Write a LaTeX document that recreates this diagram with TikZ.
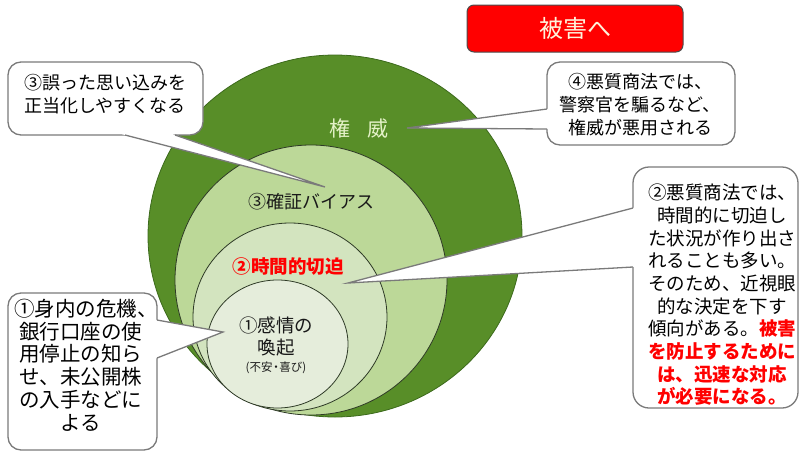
\documentclass[tikz,border=0pt]{standalone}
\usepackage{fontspec}
\setmainfont{Noto Sans CJK JP}
\usetikzlibrary{calc,shapes.geometric}
\definecolor{dgreen}{HTML}{588E28}
\definecolor{dgreenline}{HTML}{3C6A1C}
\definecolor{lgreenA}{HTML}{BCD898}
\definecolor{lgreenB}{HTML}{D3E4BF}
\definecolor{lgreenC}{HTML}{E5EDDB}
\definecolor{ringline}{HTML}{2E3A26}
\definecolor{bgray}{HTML}{7A7A7A}
\definecolor{pale}{HTML}{E4F2C8}
\definecolor{boxtext}{HTML}{FFF3DC}
\tikzset{
  ring/.style={ellipse, inner sep=0pt, draw=ringline, line width=0.8pt},
  bubblebox/.style={draw=bgray, line width=1.3pt, fill=white, rounded corners=13pt, inner sep=0pt},
  bubbleline/.style={draw=bgray, line width=1.3pt, line join=miter},
  btext/.style={align=center, text=black, inner sep=0pt},
  ctext/.style={align=center, text=black!90, inner sep=0pt}
}
\newcommand\mytail[3]{%
  \fill[white] ($(#1)!-3pt!(#2)$) -- (#2) -- ($(#3)!-3pt!(#2)$) -- cycle;
  \draw[bubbleline] (#1) -- (#2) -- (#3);
}
\begin{document}
\begin{tikzpicture}[x=1pt,y=-1pt]
\useasboundingbox (0,0) rectangle (806,453);

% circles
\node[ellipse, inner sep=0pt, fill=dgreen, draw=dgreenline, line width=0.8pt,
      minimum width=374pt, minimum height=362pt] (authc) at (335,236) {};
\node[ring, fill=lgreenA, minimum width=272pt, minimum height=270pt] (biasc) at (311,280) {};
\node[ring, fill=lgreenB, minimum width=194pt, minimum height=188pt] (timec) at (290,317) {};
\node[ring, fill=lgreenC, minimum width=141pt, minimum height=128pt] (emoc) at (277.5,344) {};

% circle labels
\node[ctext, text=pale, font=\fontsize{21}{24}\selectfont] (authl) at (359,128) {権\hspace{17pt}威};
\node[ctext, font=\fontsize{18}{22}\selectfont] (biasl) at (311,202) {③確証バイアス};
\node[ctext, text=red, font=\fontsize{18.5}{22}\selectfont\bfseries] (timel) at (288,267) {②時間的切迫};
\node[ctext, font=\fontsize{18.5}{22}\selectfont] (emol) at (276,336) {①感情の\\喚起};
\node[ctext, font=\fontsize{11.5}{13}\selectfont] (emos) at (276,368) {(不安\makebox[0.6em]{・}喜び)};

% red box
\node[draw=black!70, line width=1pt, fill=red, rounded corners=7pt,
      minimum width=216pt, minimum height=47pt, text=boxtext,
      font=\fontsize{24}{26}\selectfont] (harm) at (575,28.5) {被害へ};

% bubble 3 (top left)
\node[bubblebox, minimum width=195pt, minimum height=73pt] (b3) at (105.5,98.5) {};
\coordinate (t3a) at (125,135);
\coordinate (t3tip) at (325,187);
\coordinate (t3b) at (175,135);
\mytail{t3a}{t3tip}{t3b}
\node[btext, font=\fontsize{18}{22.5}\selectfont] (b3t) at (105,94) {③誤った思い込みを\\正当化しやすくなる};

% bubble 4 (top right)
\node[bubblebox, minimum width=188pt, minimum height=83pt] (b4) at (641,103.5) {};
\coordinate (t4a) at (547,109);
\coordinate (t4tip) at (407,128);
\coordinate (t4b) at (547,129);
\mytail{t4a}{t4tip}{t4b}
\node[btext, font=\fontsize{18}{23}\selectfont] (b4t) at (640,105) {④悪質商法では、\\警察官を騙るなど、\\権威が悪用される};

% bubble 2 (right)
\node[bubblebox, rounded corners=16pt, minimum width=165pt, minimum height=241pt] (b2) at (715.5,287.5) {};
\coordinate (t2a) at (633,208);
\coordinate (t2tip) at (348,283);
\coordinate (t2b) at (633,267);
\mytail{t2a}{t2tip}{t2b}
\node[btext, font=\fontsize{18.5}{22.65}\selectfont] (b2t) at (722,295)
  {②悪質商法では、\\時間的に切迫し\\た状況が作り出さ\\れることも多い。\\そのため、近視眼\\的な決定を下す\\傾向がある。{\color{red}\bfseries 被害}\\{\color{red}\bfseries を防止するために}\\{\color{red}\bfseries は、迅速な対応}\\{\color{red}\bfseries が必要になる。}};

% bubble 1 (bottom left)
\node[bubblebox, minimum width=149pt, minimum height=157pt] (b1) at (82.5,371.5) {};
\coordinate (t1a) at (157,320);
\coordinate (t1tip) at (223,332);
\coordinate (t1b) at (157,358);
\mytail{t1a}{t1tip}{t1b}
\node[btext, font=\fontsize{20.5}{22.8}\selectfont] (b1t) at (81,365)
  {①身内の危機\makebox[0.5em][l]{、}\\銀行口座の使\\用停止の知ら\\せ、未公開株\\の入手などに\\よる};
\end{tikzpicture}
\end{document}
